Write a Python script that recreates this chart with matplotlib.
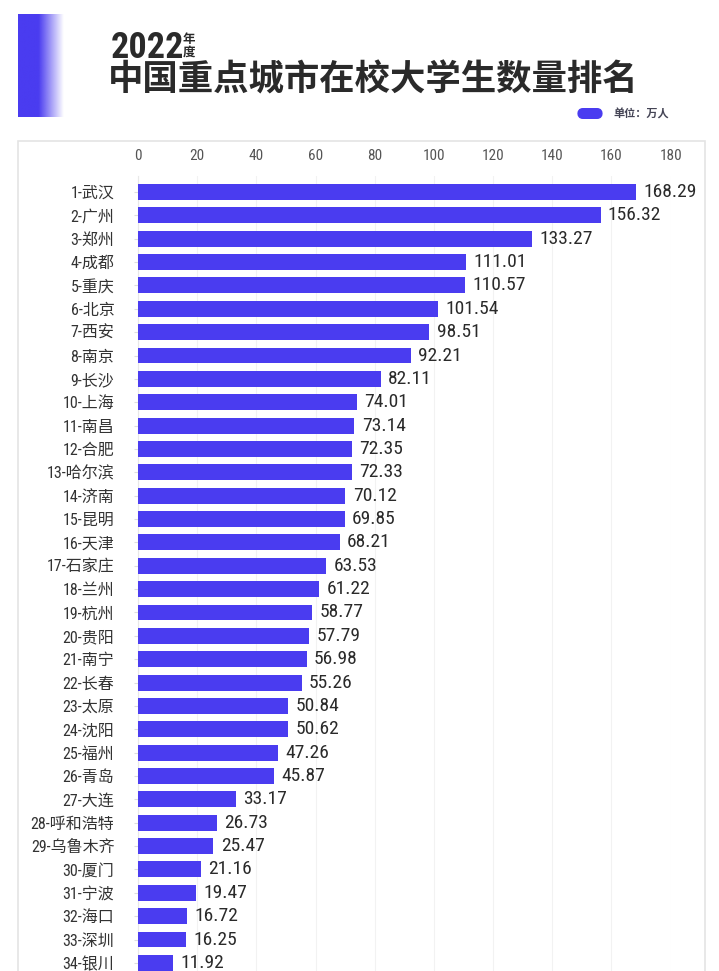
import matplotlib
matplotlib.use("Agg")
import matplotlib.pyplot as plt
import numpy as np
from matplotlib.patches import Rectangle, FancyBboxPatch

plt.rcParams['font.family'] = ['Noto Sans CJK SC', 'DejaVu Sans']

cities = ["武汉", "广州", "郑州", "成都", "重庆", "北京", "西安", "南京", "长沙", "上海",
          "南昌", "合肥", "哈尔滨", "济南", "昆明", "天津", "石家庄", "兰州", "杭州", "贵阳",
          "南宁", "长春", "太原", "沈阳", "福州", "青岛", "大连", "呼和浩特", "乌鲁木齐", "厦门",
          "宁波", "海口", "深圳", "银川"]
values = [168.29, 156.32, 133.27, 111.01, 110.57, 101.54, 98.51, 92.21, 82.11, 74.01,
          73.14, 72.35, 72.33, 70.12, 69.85, 68.21, 63.53, 61.22, 58.77, 57.79,
          56.98, 55.26, 50.84, 50.62, 47.26, 45.87, 33.17, 26.73, 25.47, 21.16,
          19.47, 16.72, 16.25, 11.92]
xticks = [0, 20, 40, 60, 80, 100, 120, 140, 160, 180]

blue = '#4a3cf0'
narrow = ['Roboto Condensed', 'Asap Condensed', 'Noto Sans CJK SC', 'DejaVu Sans']
W, H = 719, 971
fig = plt.figure(figsize=(W / 100, H / 100), dpi=100)

# white panel with light border, behind the chart
fig.patches.append(Rectangle((18 / W, -0.01), (705 - 18) / W, 1.01 - 141 / H,
                             transform=fig.transFigure, facecolor='white',
                             edgecolor='#e4e4e4', lw=1.2, zorder=-5))

# gradient block top-left
gax = fig.add_axes([18 / W, 1 - 117 / H, 46 / W, 103 / H])
grad = np.linspace(0, 1, 100)
alpha = np.clip(1 - (grad - 0.45) / 0.55, 0, 1)
img = np.zeros((1, 100, 4))
img[..., 0] = 0x4a / 255
img[..., 1] = 0x3c / 255
img[..., 2] = 0xf0 / 255
img[..., 3] = alpha
gax.imshow(img, aspect='auto', extent=[0, 1, 0, 1])
gax.axis('off')

# titles
fig.text(111 / W, 1 - 58 / H, "2022", fontsize=26, fontweight='bold',
         color='#2a2a2a', va='baseline', family=narrow)
fig.text(183 / W, 1 - 39 / H, "年", fontsize=9, fontweight='bold', color='#2a2a2a', va='center')
fig.text(183 / W, 1 - 52 / H, "度", fontsize=9, fontweight='bold', color='#2a2a2a', va='center')
fig.text(108 / W, 1 - 80 / H, "中国重点城市在校大学生数量排名", fontsize=25.5,
         fontweight='bold', color='#2a2a2a', va='center')

# unit legend
fig.patches.append(FancyBboxPatch((577 / W, 1 - 119 / H), 26 / W, 11 / H,
                                  boxstyle="round,pad=0,rounding_size=0.008",
                                  transform=fig.transFigure, facecolor=blue,
                                  edgecolor='none'))
fig.text(613 / W, 1 - 114 / H, "单位：万人", fontsize=8, fontweight='bold',
         color='#444455', va='center')

# main chart
ax = fig.add_axes([138 / W, 0, (670.6 - 138) / W, 1 - 176 / H])
y = np.arange(len(cities))
ax.barh(y, values, height=0.68, color=blue, zorder=3)
ax.set_xlim(0, 180)
ax.set_ylim((971 - 192) / 23.36, (176 - 192) / 23.36)
ax.set_xticks(xticks)
ax.xaxis.tick_top()
ax.tick_params(axis='x', length=0, pad=9, labelsize=11, labelcolor='#555555')
for lbl in ax.get_xticklabels():
    lbl.set_family(narrow)
ax.set_yticks(y)
ax.set_yticklabels([f"{i + 1}-{c}" for i, c in enumerate(cities)])
ax.tick_params(axis='y', length=3, color='#dddddd', pad=14, labelsize=11.5,
               labelcolor='#333333')
for lbl in ax.get_yticklabels():
    lbl.set_family(narrow)
ax.grid(axis='x', color='#f2f2f2', lw=0.8, zorder=0)
for s in ['top', 'right', 'bottom']:
    ax.spines[s].set_visible(False)
ax.spines['left'].set_color('#e8e8e8')
ax.patch.set_alpha(0)

for yi, v in zip(y, values):
    ax.text(v + 2.5, yi, f"{v:.2f}", va='center', ha='left', fontsize=14,
            color='#2a2a2a', family=narrow)

fig.savefig("out.png", dpi=100)
